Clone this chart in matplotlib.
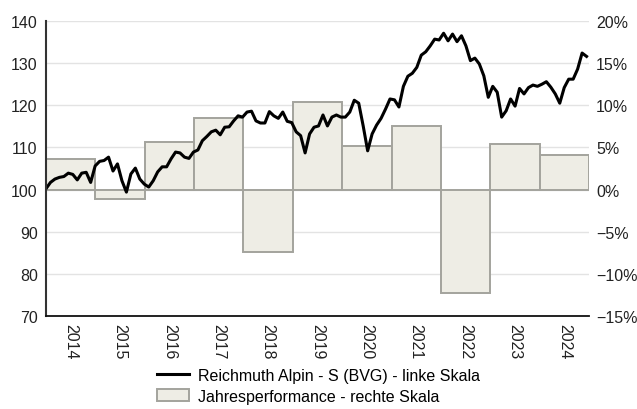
import matplotlib.pyplot as plt
import numpy as np
from matplotlib.ticker import FuncFormatter

plt.rcParams['font.family'] = ['Liberation Sans', 'DejaVu Sans']

# Index series (left scale), roughly monthly from Jan 2014
index_values = [
    100.2, 101.7, 102.5, 102.9, 103.1, 103.9, 103.6, 102.3, 103.9, 104.1,
    101.7, 105.6, 106.7, 106.9, 107.7, 104.4, 106.1, 102.1, 99.4, 103.7,
    105.1, 102.5, 101.3, 100.6, 102.1, 104.2, 105.4, 105.4, 107.3, 108.9,
    108.7, 107.7, 107.4, 108.9, 109.4, 111.6, 112.6, 113.7, 114.1, 113.0,
    114.8, 114.9, 116.3, 117.5, 117.2, 118.4, 118.6, 116.3, 115.8, 115.8,
    118.5, 117.5, 116.9, 118.4, 116.2, 115.9, 113.7, 112.8, 108.7, 113.2,
    114.8, 115.1, 117.7, 115.1, 117.2, 117.7, 117.2, 117.2, 118.4, 121.2,
    120.5, 115.1, 109.2, 113.2, 115.3, 116.9, 119.1, 121.5, 121.3, 119.6,
    124.5, 126.9, 127.6, 129.0, 131.9, 132.7, 134.1, 135.7, 135.5, 137.1,
    135.3, 136.9, 135.1, 136.5, 134.1, 130.6, 131.2, 129.8, 127.0, 121.9,
    124.5, 123.1, 117.2, 118.7, 121.5, 119.8, 124.0, 122.7, 124.2, 124.8,
    124.5, 125.0, 125.6, 124.3, 122.7, 120.5, 124.2, 126.2, 126.2, 128.6,
    132.4, 131.6,
]
index_start, index_end = 2014.0, 2024.95

# Yearly performance (right scale, %)
years = [2014, 2015, 2016, 2017, 2018, 2019, 2020, 2021, 2022, 2023, 2024]
yearly_perf = [3.6, -1.1, 5.7, 8.5, -7.4, 10.4, 5.2, 7.5, -12.3, 5.4, 4.1]

line_label = "Reichmuth Alpin - S (BVG) - linke Skala"
bar_label = "Jahresperformance - rechte Skala"

fig = plt.figure(figsize=(6.37, 4.10), dpi=100)
ax2 = fig.add_axes([0.0722, 0.2268, 0.8525, 0.7195])
ax = ax2.twinx()
# left scale on the left side, right scale on the right
ax.yaxis.tick_left()
ax2.yaxis.tick_right()
ax.set_zorder(ax2.get_zorder() + 1)
ax.patch.set_visible(False)

x_bars = np.array(years) + 0.5
ax2.bar(x_bars, yearly_perf, width=1.0, color='#eeede5', edgecolor='#a3a39d',
        linewidth=1.4, label=bar_label, zorder=2)
ax2.set_ylim(-15, 20)
ax2.set_yticks(np.arange(-15, 21, 5))
ax2.yaxis.set_major_formatter(FuncFormatter(lambda v, p: f"{v:.0f}%".replace('-', '\u2212')))
ax2.grid(axis='y', color='#e3e3e3', linewidth=1.0, zorder=0)
ax2.set_axisbelow(True)

x_line = np.linspace(index_start, index_end, len(index_values))
ax.plot(x_line, index_values, color='black', linewidth=2.2, label=line_label)
ax.set_ylim(70, 140)
ax.set_yticks(np.arange(70, 141, 10))

ax2.set_xlim(2014, 2025)
ax2.set_xticks(x_bars)
ax2.set_xticklabels([str(y) for y in years], rotation=-90)

for a in (ax, ax2):
    for s in ('top', 'right', 'left', 'bottom'):
        a.spines[s].set_visible(False)
    a.tick_params(length=0, labelsize=11.5, colors='#222222')
ax.spines['left'].set_visible(True)
ax.spines['left'].set_color('#333333')
ax.spines['left'].set_linewidth(1.5)
ax.spines['bottom'].set_visible(True)
ax.spines['bottom'].set_color('#111111')
ax.spines['bottom'].set_linewidth(1.3)
ax.tick_params(axis='y', pad=6)
ax2.tick_params(axis='y', pad=5)
ax2.tick_params(axis='x', pad=5)

h1, l1 = ax.get_legend_handles_labels()
h2, l2 = ax2.get_legend_handles_labels()
fig.legend(h1 + h2, l1 + l2, loc='lower center', bbox_to_anchor=(0.5, -0.022),
           frameon=False, fontsize=11.5, handlelength=2.0, labelspacing=0.35,
           handletextpad=0.55)

fig.savefig('out.png', dpi=100)
